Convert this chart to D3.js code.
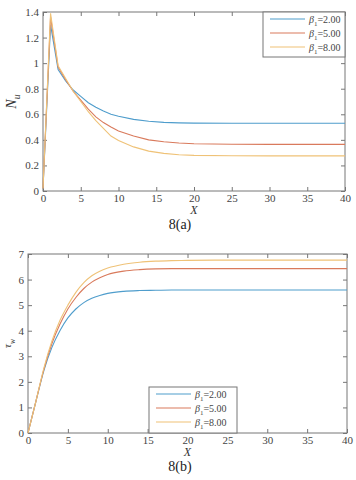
<!DOCTYPE html>
<meta charset="utf-8">
<style>
  body { margin: 0; background: #fff; }
  svg { display: block; font-family: 'Liberation Serif', 'DejaVu Serif', serif; }
  .tick text { font-size: 11px; fill: #444; font-family: 'Liberation Serif', 'DejaVu Serif', serif; }
  .tick line { stroke: #777; }
  .domain { stroke: none; }
</style>
<script src="https://d3js.org/d3.v7.min.js"></script>
<div id="chart"></div>
<script>
// x positions shared by every series
const xs = [0, 1, 2, 3, 4, 5, 6, 7, 8, 9, 10, 12, 14, 16, 18, 20, 25, 30, 35, 40];

// 8(a) Nu
const nuBeta2 = [0.02, 1.30, 0.95, 0.86, 0.79, 0.74, 0.69, 0.655, 0.625, 0.60, 0.585, 0.56, 0.545, 0.537, 0.533, 0.531, 0.53, 0.53, 0.53, 0.53];
const nuBeta5 = [0.02, 1.36, 0.97, 0.87, 0.78, 0.71, 0.64, 0.58, 0.535, 0.50, 0.47, 0.43, 0.40, 0.385, 0.375, 0.37, 0.366, 0.365, 0.365, 0.365];
const nuBeta8 = [0.02, 1.39, 0.98, 0.88, 0.78, 0.70, 0.62, 0.55, 0.49, 0.43, 0.395, 0.345, 0.312, 0.294, 0.284, 0.279, 0.276, 0.275, 0.275, 0.275];

// 8(b) tau_w
const tauBeta2 = [0, 1.25, 2.45, 3.35, 4.0, 4.5, 4.85, 5.1, 5.27, 5.38, 5.46, 5.54, 5.57, 5.58, 5.59, 5.59, 5.59, 5.59, 5.59, 5.59];
const tauBeta5 = [0, 1.25, 2.5, 3.5, 4.25, 4.85, 5.3, 5.65, 5.9, 6.07, 6.2, 6.33, 6.39, 6.42, 6.43, 6.43, 6.43, 6.43, 6.43, 6.43];
const tauBeta8 = [0, 1.25, 2.55, 3.6, 4.4, 5.0, 5.5, 5.88, 6.15, 6.33, 6.45, 6.6, 6.68, 6.72, 6.74, 6.75, 6.76, 6.76, 6.76, 6.76];

const legendLabels = ["2.00", "5.00", "8.00"];
const colors = ["#4f9dcc", "#d97a5c", "#efc277"];
const xTicks = [0, 5, 10, 15, 20, 25, 30, 35, 40];
const nuTicks = [0, 0.2, 0.4, 0.6, 0.8, 1, 1.2, 1.4];
const tauTicks = [0, 1, 2, 3, 4, 5, 6, 7];

const serif = "'Liberation Serif', 'DejaVu Serif', serif";

const svg = d3.select("#chart").append("svg")
  .attr("width", 356).attr("height", 480);

function panel(opt) {
  const x = d3.scaleLinear().domain([0, 40]).range([opt.left, opt.right]);
  const y = d3.scaleLinear().domain(opt.ydomain).range([opt.bottom, opt.top]);
  const g = svg.append("g");

  // axes with inward ticks on all four sides
  g.append("g").attr("transform", `translate(0,${opt.bottom})`)
    .call(d3.axisBottom(x).tickValues(xTicks).tickSize(-4).tickPadding(3).tickFormat(d3.format("d")))
    .attr("font-family", serif).attr("font-size", 11);
  g.append("g").attr("transform", `translate(0,${opt.top})`)
    .call(d3.axisTop(x).tickValues(xTicks).tickSize(-4).tickFormat(""));
  g.append("g").attr("transform", `translate(${opt.left},0)`)
    .call(d3.axisLeft(y).tickValues(opt.yticks).tickSize(-4).tickPadding(4).tickFormat(d => d3.format("")(d)))
    .attr("font-family", serif).attr("font-size", 11);
  g.append("g").attr("transform", `translate(${opt.right},0)`)
    .call(d3.axisRight(y).tickValues(opt.yticks).tickSize(-4).tickFormat(""));

  g.append("rect")
    .attr("x", opt.left).attr("y", opt.top)
    .attr("width", opt.right - opt.left).attr("height", opt.bottom - opt.top)
    .attr("fill", "none").attr("stroke", "#777").attr("stroke-width", 1);

  const line = d3.line()
    .curve(opt.curve)
    .x((d, i) => x(xs[i]))
    .y(d => y(d));

  opt.series.forEach((s, i) => {
    g.append("path").datum(s)
      .attr("fill", "none")
      .attr("stroke", colors[i])
      .attr("stroke-width", 1.1)
      .attr("d", line);
  });

  // legend
  const lg = opt.legend;
  g.append("rect")
    .attr("x", lg.x).attr("y", lg.y).attr("width", lg.w).attr("height", lg.h)
    .attr("fill", "#fff").attr("stroke", "#777");
  legendLabels.forEach((lab, i) => {
    const ly = lg.y + 7 + i * 14;
    g.append("line")
      .attr("x1", lg.x + 7).attr("x2", lg.x + 42)
      .attr("y1", ly).attr("y2", ly)
      .attr("stroke", colors[i]).attr("stroke-width", 1.1);
    const t = g.append("text")
      .attr("x", lg.x + 46).attr("y", ly + 3.5)
      .attr("font-size", 10).attr("fill", "#444");
    t.append("tspan").attr("font-style", "italic").text("β");
    t.append("tspan").attr("font-size", 7).attr("dy", 3).text("1");
    t.append("tspan").attr("dy", -3).text("=" + lab);
  });

  // x label and caption
  g.append("text")
    .attr("x", (opt.left + opt.right) / 2).attr("y", opt.bottom + 23)
    .attr("text-anchor", "middle").attr("font-style", "italic")
    .attr("font-size", 12).attr("fill", "#333").text("X");
  g.append("text")
    .attr("x", 180).attr("y", opt.bottom + 38)
    .attr("text-anchor", "middle")
    .attr("font-size", 14).attr("fill", "#222").text(opt.caption);

  // y label
  const yl = g.append("text")
    .attr("transform", `translate(${opt.ylabelX},${(opt.top + opt.bottom) / 2}) rotate(-90)`)
    .attr("text-anchor", "middle").attr("fill", "#333").attr("font-style", "italic")
    .attr("font-size", opt.ylabelSize);
  yl.append("tspan").text(opt.ylabel[0]);
  yl.append("tspan").attr("font-size", opt.ylabelSize * 0.7).attr("dy", 4).text(opt.ylabel[1]);
}

panel({
  left: 43, right: 345, top: 12, bottom: 191,
  ydomain: [0, 1.4], yticks: nuTicks,
  series: [nuBeta2, nuBeta5, nuBeta8],
  curve: d3.curveLinear,
  legend: { x: 263, y: 12, w: 82, h: 45 },
  caption: "8(a)",
  ylabel: ["N", "u"], ylabelX: 16, ylabelSize: 14
});

panel({
  left: 28, right: 347, top: 254, bottom: 433,
  ydomain: [0, 7], yticks: tauTicks,
  series: [tauBeta2, tauBeta5, tauBeta8],
  curve: d3.curveMonotoneX,
  legend: { x: 149, y: 387, w: 88, h: 46 },
  caption: "8(b)",
  ylabel: ["τ", "w"], ylabelX: 11, ylabelSize: 11
});
</script>
